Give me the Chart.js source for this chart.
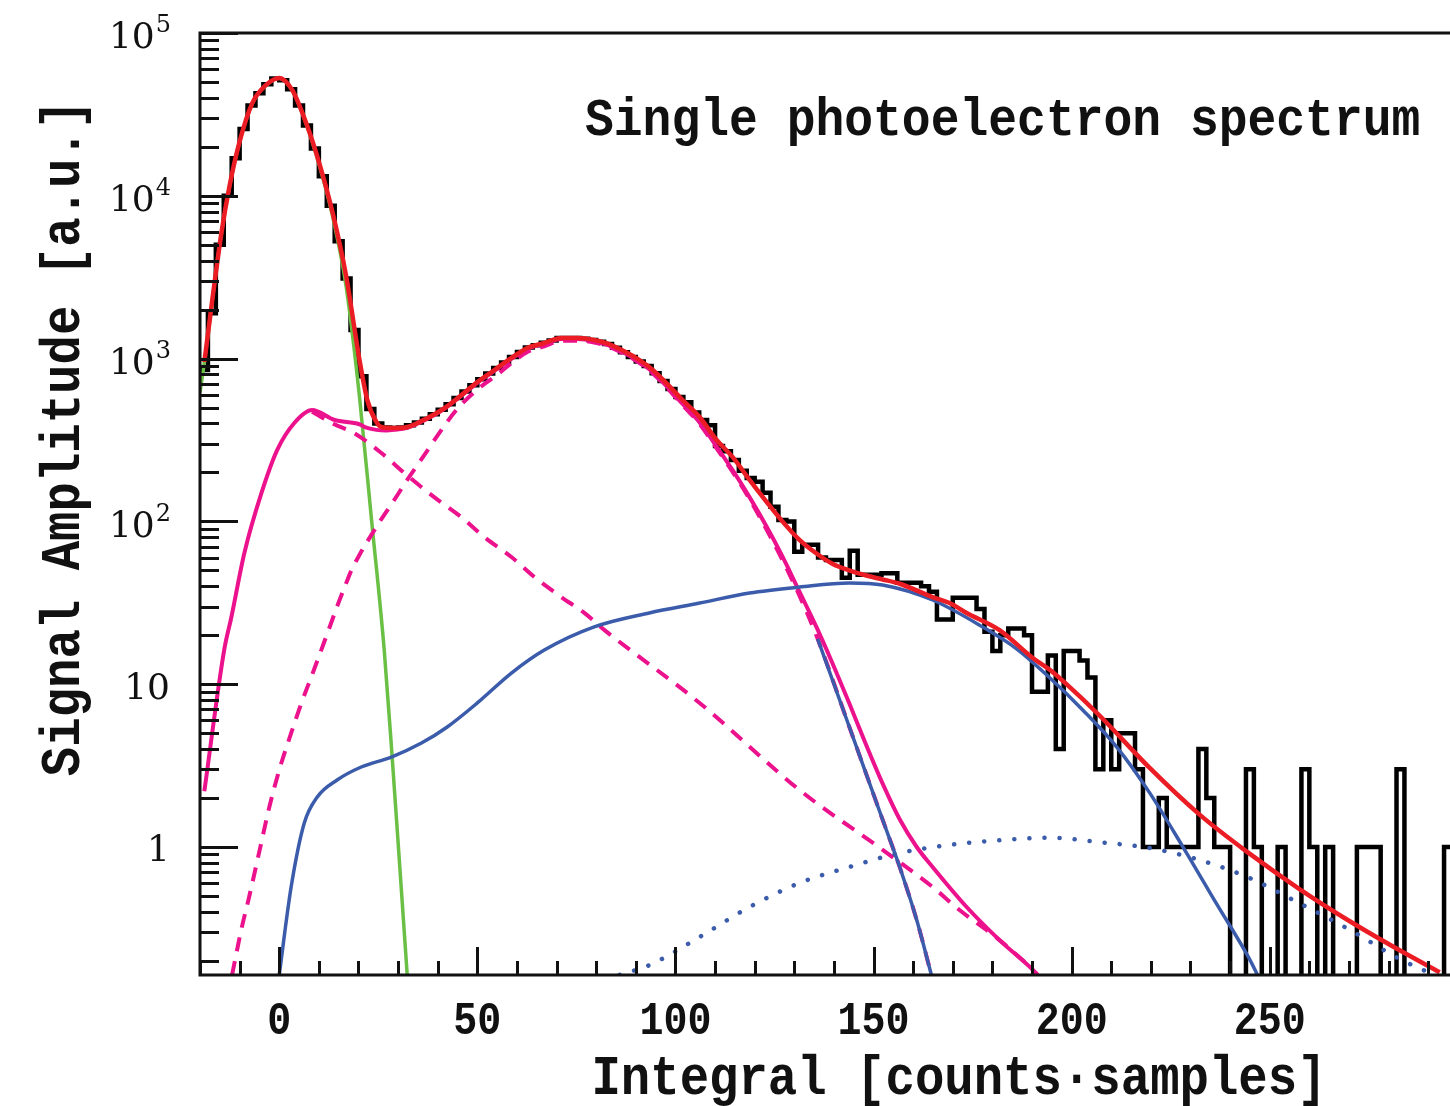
<!DOCTYPE html>
<html>
<head>
<meta charset="utf-8">
<script src="https://cdn.jsdelivr.net/npm/chart.js@4.4.1/dist/chart.umd.min.js"></script>
<style>
  html, body { margin: 0; padding: 0; background: #fff; }
  #wrap { width: 1450px; height: 1106px; }
</style>
</head>
<body>
<div id="wrap"><canvas id="spectrum" width="1450" height="1106"></canvas></div>
<script>
  // histogram: bins of width 2 starting at -20, one count per bin
  const histStart = -20;
  const histBinWidth = 2;
  const histCounts = [
    850, 1900, 5000, 10000, 17000, 25700, 35900, 42600, 48400, 52500,
    51300, 45200, 35900, 27000, 19500, 13200, 8700, 5250, 3100, 1500,
    780, 490, 400, 378, 375, 378, 390, 405, 427, 455,
    485, 525, 573, 627, 686, 747, 809, 875, 946, 1023,
    1096, 1170, 1208, 1250, 1294, 1337, 1340, 1340, 1325, 1303,
    1270, 1230, 1167, 1094, 1023, 959, 900, 813, 728, 650,
    580, 540, 466, 420, 390, 290, 270, 238, 205, 185,
    175, 150, 123, 102, 100, 65, 72, 72, 60, 58,
    58, 45, 66, 47, 47, 47, 48, 48, 42, 42,
    42, 40, 37, 25, 25, 34, 34, 34, 29, 21,
    16, 20, 22, 22, 20, 9, 9, 15, 4, 16,
    16, 14, 11, 3, 6, 3, 5, 5, 3, 1,
    1, 2, 1, 1, 1, 1, 4, 2, 1, 1,
    0, 0, 3, 1, 0, 0, 1, 0, 0, 3,
    1, 0, 1, 0, 0, 0, 1, 1, 1, 0,
    0, 3, 0, 0, 0, 0, 0, 1
  ];

  // total fit (red)
  const fitX = [-18.9, -16.9, -14.6, -12.6, -10.1, -6.8, -3.3, 0, 3.3, 6.8,
    10.1, 13.4, 16.9, 20.2, 22.2, 24.5, 25.8, 29, 32.3, 37.4,
    41.7, 46, 50, 54.3, 58.6, 62.6, 66.9, 71.2, 75.3, 79.5,
    83.8, 93.4, 101.8, 106.1, 110.4, 114.4, 118.7, 123, 127, 131.3,
    135.6, 139.6, 143.9, 148.2, 152.3, 156.6, 164.9, 169.2, 173.5, 181.8,
    190.2, 194.4, 198.7, 207.1, 219.7, 232.3, 244.9, 257.6, 270.2, 282.8, 292.9];
  const fitY = [953, 2290, 5900, 11300, 21100, 37100, 48000, 53000, 44600, 28000,
    15900, 8000, 3200, 1000, 560, 408, 380, 375, 380, 432,
    497, 598, 718, 851, 1009, 1162, 1247, 1339, 1339, 1301,
    1213, 888, 557, 438, 316, 249, 180, 132, 100, 77,
    63.5, 55, 50, 46.5, 44, 41.4, 34.3, 31.5, 27.4, 21.5,
    14.5, 12.3, 10, 6.4, 3.06, 1.58, 0.91, 0.55, 0.35, 0.232, 0.17];

  // pedestal (green)
  const pedX = [-20, -18.9, -16.9, -14.6, -12.6, -10.1, -6.8, -3.3, 0, 3.3,
    6.8, 10.1, 13.4, 16.9, 20.2, 23.3, 26.5, 28.5, 30.4, 32.3];
  const pedY = [620, 950, 2290, 5880, 11250, 21000, 37000, 47800, 52700, 44200,
    27600, 15400, 7600, 2750, 600, 102, 16.2, 3.57, 0.77, 0.164];

  // single photoelectron sum (magenta solid)
  const speX = [-18.9, -13.9, -12.1, -8.8, -4.5, -0.5, 3.8, 8.3, 13.9, 20.2,
    22.2, 24.5, 27, 29, 32.3, 37.4, 41.7, 46, 50, 54.3,
    58.6, 62.6, 66.9, 71.2, 75.3, 79.5, 83.8, 93.4, 101.8, 106.1,
    110.4, 114.4, 118.7, 123, 127, 131.3, 135.6, 139.6, 143.9, 148.2,
    152.3, 156.6, 160.9, 164.9, 173.5, 181.8, 190.2, 191.4];
  const speY = [2.2, 16.2, 25.7, 64, 149, 275, 402, 483, 420, 395,
    375, 365, 362, 365, 375, 427, 492, 591, 710, 841,
    997, 1148, 1231, 1320, 1318, 1278, 1189, 860, 527, 405,
    288, 207, 141, 93, 61, 37, 22.4, 13.5, 7.6, 4.2,
    2.45, 1.48, 1.0, 0.754, 0.428, 0.268, 0.176, 0.164];

  // under-amplified component (magenta dashed, falling)
  const tailX = [8.3, 13.9, 18.9, 25.8, 31.6, 39.1, 46, 51.8, 58.6, 64.4,
    71.2, 77, 82.1, 106.1, 131.3, 152.3, 164.9, 171.7, 181.8, 190.2, 191.4];
  const tailY = [472, 395, 349, 263, 198, 141, 106, 80, 60.4, 45.5,
    34.3, 27.4, 21.5, 7.67, 2.24, 0.96, 0.568, 0.41, 0.268, 0.176, 0.164];

  // 1 p.e. gaussian (magenta dashed, rising)
  const onePeX = [-11.9, -9.6, -7.6, -5.1, -2.5, 0, 3, 5.6, 8.1, 10.6,
    12.6, 14.6, 16.6, 18.2, 20.2, 22.2, 25.3, 29, 32.3, 36.6,
    40.9, 44.9, 48.5, 51.8, 54.3, 58.6, 62.6, 66.9, 71.2, 75.3,
    79.5, 83.8, 93.4, 101.8, 106.1, 110.4, 114.4, 118.7, 123, 127,
    131.3, 135.9, 143.9, 152.3, 156.6, 160.9, 164.6];
  const onePeY = [0.164, 0.309, 0.493, 0.92, 1.76, 2.97, 5.0, 7.67, 11.1, 16.2,
    22, 30, 40, 50, 62, 75, 99, 135, 180, 255,
    364, 490, 600, 700, 771, 937, 1100, 1191, 1286, 1289,
    1253, 1168, 847, 518, 397, 281, 202, 137, 89, 58,
    35, 19, 5.46, 1.47, 0.754, 0.356, 0.164];

  // 2 p.e. (blue solid) and its low branch
  const twoPeX = [0, 3, 6.3, 9.6, 14.6, 20.7, 28.3, 35.9, 42.4, 50,
    58.6, 66.9, 79.5, 93.4, 106.1, 118.7, 131.3, 143.9, 152.3, 164.9,
    177.5, 186.1, 194.4, 202.8, 211.4, 219.7, 228, 236.6, 244.9, 246.9];
  const twoPeY = [0.164, 0.568, 1.40, 2.03, 2.58, 3.10, 3.57, 4.35, 5.46, 7.67,
    11.7, 16.2, 22.5, 27.4, 31.5, 36.3, 39.5, 41.9, 40.7, 32.9,
    22.5, 16.5, 11.0, 6.95, 4.11, 2.15, 1.01, 0.447, 0.205, 0.164];
  const branchX = [135.9, 143.9, 152.3, 156.6, 160.9, 164.6];
  const branchY = [19, 5.46, 1.47, 0.754, 0.356, 0.164];

  // 3 p.e. (blue dotted)
  const threePeX = [85.9, 93.4, 106.1, 118.7, 131.3, 143.9, 156.6, 169.2, 181.8, 194.4,
    207.1, 219.7, 232.3, 244.9, 257.6, 270.2, 282.8, 291.2];
  const threePeY = [0.164, 0.188, 0.28, 0.428, 0.601, 0.754, 0.919, 1.03, 1.10, 1.14,
    1.07, 0.986, 0.832, 0.645, 0.45, 0.31, 0.205, 0.165];

  // axes
  const xRange = [-20, 295.5];
  const yRange = [0.1636, 1e5];
  const xMajorStep = 50, xMinorStep = 10;
  const xTickLabels = [0, 50, 100, 150, 200, 250];
  const yTickLabels = [1, 10, 100, 1000, 10000, 100000];

  const monoBold = '"Liberation Mono", "DejaVu Sans Mono", monospace';

  function curve(xs, ys) {
    return xs.map((x, i) => ({ x: x, y: ys[i] }));
  }

  // histogram outline: point at each bin low edge, empty bins pushed below the axis
  function histOutline() {
    const pts = histCounts.map((c, i) => ({ x: histStart + i * histBinWidth, y: c > 0 ? c : 0.01 }));
    pts.push({ x: histStart + histCounts.length * histBinWidth, y: pts[pts.length - 1].y });
    return pts;
  }

  function line(data, color, width, extra) {
    return Object.assign({
      data: data,
      borderColor: color,
      borderWidth: width,
      pointRadius: 0,
      fill: false,
      cubicInterpolationMode: 'monotone'
    }, extra || {});
  }

  // text drawn a bit taller, like the ROOT fonts
  function tallText(ctx, text, x, y, sy) {
    ctx.save();
    ctx.translate(x, y);
    ctx.scale(1, sy);
    ctx.fillText(text, 0, 0);
    ctx.restore();
  }

  const rootFrame = {
    id: 'rootFrame',
    afterDatasetsDraw(chart) {
      const { ctx, chartArea: a, scales: { x, y } } = chart;
      ctx.save();
      ctx.strokeStyle = '#111';
      ctx.fillStyle = '#111';
      ctx.lineWidth = 3;
      ctx.lineCap = 'butt';

      // frame
      ctx.beginPath();
      ctx.moveTo(a.right + 10, a.top);
      ctx.lineTo(a.left, a.top);
      ctx.lineTo(a.left, a.bottom);
      ctx.lineTo(a.right + 10, a.bottom);
      ctx.stroke();

      // y ticks, decades long, the rest short
      ctx.beginPath();
      for (let d = -1; d <= 5; d++) {
        for (let m = 1; m <= 9; m++) {
          const v = m * Math.pow(10, d);
          if (v < yRange[0] || v > yRange[1] * 1.001) continue;
          const py = Math.round(y.getPixelForValue(v)) + 0.5;
          ctx.moveTo(a.left, py);
          ctx.lineTo(a.left + (m === 1 ? 38 : 19), py);
        }
      }
      // x ticks
      for (let v = Math.ceil(xRange[0] / xMinorStep) * xMinorStep; v <= xRange[1]; v += xMinorStep) {
        const px = Math.round(x.getPixelForValue(v)) + 0.5;
        ctx.moveTo(px, a.bottom);
        ctx.lineTo(px, a.bottom - (v % xMajorStep === 0 ? 28 : 14));
      }
      ctx.stroke();

      // y tick labels with superscript exponents
      ctx.textAlign = 'right';
      ctx.textBaseline = 'middle';
      yTickLabels.forEach(v => {
        const py = y.getPixelForValue(v);
        const exp = Math.round(Math.log10(v));
        if (exp <= 1) {
          ctx.font = '36px "DejaVu Serif", serif';
          ctx.fillText(String(v), 170, py + 5);
        } else {
          ctx.font = '24px "DejaVu Serif", serif';
          const w = ctx.measureText(String(exp)).width;
          ctx.fillText(String(exp), 171, py - 7);
          ctx.font = '36px "DejaVu Serif", serif';
          ctx.fillText('10', 171 - w - 1, py + 6);
        }
      });

      // x tick labels
      ctx.textAlign = 'center';
      ctx.textBaseline = 'alphabetic';
      ctx.font = 'bold 40px ' + monoBold;
      xTickLabels.forEach(v => {
        tallText(ctx, String(v), x.getPixelForValue(v), 1034, 1.15);
      });

      // axis titles
      ctx.font = 'bold 49px ' + monoBold;
      tallText(ctx, 'Integral [counts\u00b7samples]', 959, 1094, 1.12);
      ctx.save();
      ctx.translate(79, 438);
      ctx.rotate(-Math.PI / 2);
      ctx.scale(1, 1.12);
      ctx.fillText('Signal Amplitude [a.u.]', 0, 0);
      ctx.restore();

      // title
      ctx.font = 'bold 48px ' + monoBold;
      ctx.textAlign = 'left';
      tallText(ctx, 'Single photoelectron spectrum', 585, 135, 1.12);
      ctx.restore();
    }
  };

  new Chart(document.getElementById('spectrum'), {
    type: 'line',
    data: {
      datasets: [
        line(curve(fitX, fitY), '#ec1c24', 4.5),
        line(curve(branchX, branchY), '#3b5bab', 3.5),
        line(curve(twoPeX, twoPeY), '#3b5bab', 3.5),
        line(curve(threePeX, threePeY), '#3b5bab', 4.5, { borderDash: [0.1, 15], borderCapStyle: 'round' }),
        line(curve(tailX, tailY), '#ec118c', 4, { borderDash: [14, 10] }),
        line(curve(onePeX, onePeY), '#ec118c', 4, { borderDash: [14, 10] }),
        line(curve(speX, speY), '#ec118c', 4),
        line(curve(pedX, pedY), '#6abf45', 3.5),
        { data: histOutline(), borderColor: '#000', borderWidth: 4.5, pointRadius: 0, fill: false, stepped: true }
      ]
    },
    options: {
      responsive: false,
      animation: false,
      events: [],
      layout: { padding: { left: 200, top: 33, right: 0, bottom: 131 } },
      plugins: { legend: { display: false }, tooltip: { enabled: false } },
      scales: {
        x: { type: 'linear', min: xRange[0], max: xRange[1], display: false },
        y: { type: 'logarithmic', min: yRange[0], max: yRange[1], display: false }
      }
    },
    plugins: [rootFrame]
  });
</script>
</body>
</html>
